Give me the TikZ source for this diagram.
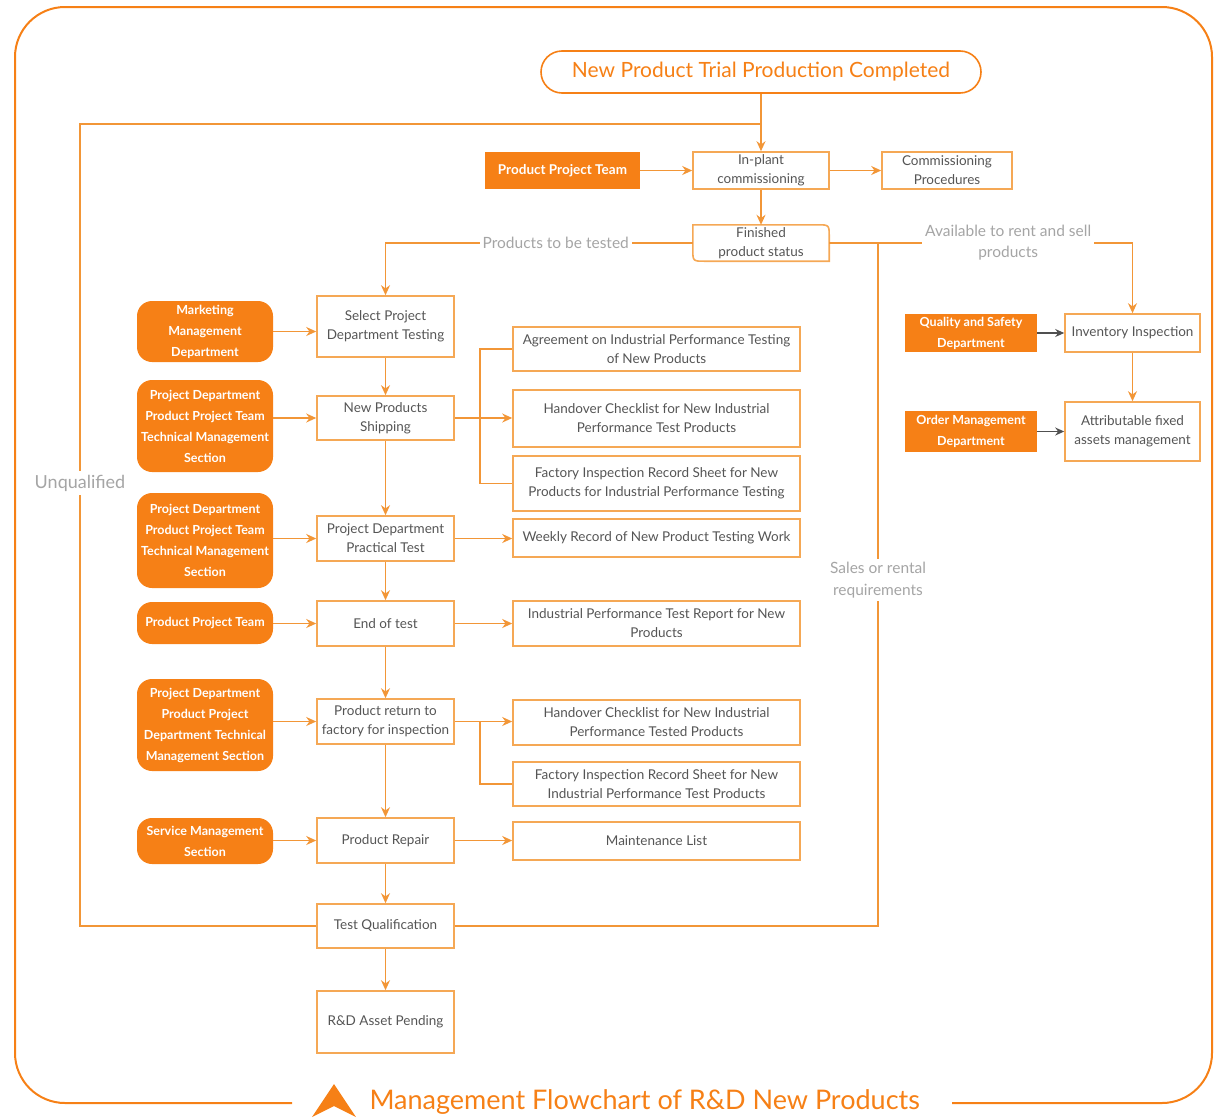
\documentclass[tikz,border=0pt]{standalone}
\usepackage{fontspec}
\setmainfont{Lato}
\usetikzlibrary{arrows.meta,calc}

\definecolor{ofill}{RGB}{246,128,22}
\definecolor{oline}{RGB}{242,150,55}
\definecolor{oborder}{RGB}{245,168,85}
\definecolor{txt}{RGB}{85,85,85}
\definecolor{lblgray}{RGB}{165,165,165}
\definecolor{darkarr}{RGB}{80,80,80}

\tikzset{
  mbox/.style={draw=oborder, line width=1.6pt, fill=white, text=txt,
    align=center, inner sep=2pt, font=\fontsize{13.5}{19}\selectfont},
  obox/.style={fill=ofill, text=white, align=center, inner sep=2pt,
    font=\bfseries\fontsize{12.5}{21}\selectfont},
  orbox/.style={obox, rounded corners=15pt},
  lnk/.style={draw=oline, line width=1.5pt},
  arr/.style={lnk, -{Stealth[length=10pt,width=9pt]}},
  darr/.style={draw=darkarr, line width=1.2pt, -{Stealth[length=9pt,width=8pt]}},
  lbl/.style={fill=white, text=lblgray, align=center, inner sep=3pt,
    font=\fontsize{15.5}{22}\selectfont},
}

\begin{document}
\begin{tikzpicture}[x=1pt,y=-1pt]
\useasboundingbox (0,0) rectangle (1214,1119);

% outer frame, broken at the bottom for the title
\draw[draw=ofill, line width=2pt, rounded corners=50pt]
  (292,1103) -| (15,7) -| (1212,1103) -- (952,1103);
\fill[ofill] (334,1084) -- (356,1117) -- (334,1106) -- (312,1117) -- cycle;
\node[text=ofill, font=\fontsize{27}{30}\selectfont, anchor=west] (title)
  at (366,1102) {Management Flowchart of R\&D New Products};

% top part
\node[draw=ofill, line width=1.6pt, fill=white, rounded corners=21pt,
  minimum width=440pt, minimum height=42pt, text=ofill,
  font=\fontsize{21}{24}\selectfont] (top) at (761,72)
  {New Product Trial Production Completed};

\node[mbox, minimum width=136pt, minimum height=37pt] (inp) at (761,170.5)
  {In-plant\\commissioning};
\node[obox, minimum width=155pt, minimum height=37pt, font=\bfseries\fontsize{13.5}{19}\selectfont]
  (ppteam) at (562.5,170.5) {Product Project Team};
\node[mbox, minimum width=130pt, minimum height=37pt] (comm) at (947,170.5)
  {Commissioning\\Procedures};
\node[text=txt, align=center, minimum width=136pt, minimum height=36pt,
  inner sep=2pt, font=\fontsize{13.5}{19}\selectfont] (fin) at (761,243)
  {Finished\\product status};
\draw[draw=oborder, line width=1.6pt]
  (fin.north west) -- ($(fin.north east)+(-12,0)$)
  .. controls (fin.north east) .. ($(fin.north east)+(0,12)$)
  -- (fin.south east) -- ($(fin.south west)+(12,0)$)
  .. controls (fin.south west) .. ($(fin.south west)+(0,-12)$) -- cycle;

% main column
\node[mbox, minimum width=137pt, minimum height=61pt] (sel) at (385.5,326.5)
  {Select Project\\Department Testing};
\node[mbox, minimum width=137pt, minimum height=44pt] (ship) at (385.5,418)
  {New Products\\Shipping};
\node[mbox, minimum width=137pt, minimum height=45pt] (prac) at (385.5,538.5)
  {Project Department\\Practical Test};
\node[mbox, minimum width=137pt, minimum height=45pt] (endt) at (385.5,623.5)
  {End of test};
\node[mbox, minimum width=137pt, minimum height=45pt] (ret) at (385.5,721.5)
  {Product return to\\factory for inspection};
\node[mbox, minimum width=137pt, minimum height=45pt] (rep) at (385.5,840.5)
  {Product Repair};
\node[mbox, minimum width=137pt, minimum height=44pt] (qual) at (385.5,926)
  {Test Qualification};
\node[mbox, minimum width=137pt, minimum height=62pt] (rd) at (385.5,1022)
  {R\&D Asset Pending};

% responsible departments
\node[orbox, minimum width=136pt, minimum height=61pt] (mk) at (205,331.5)
  {Marketing\\Management\\Department};
\node[orbox, minimum width=136pt, minimum height=92pt] (pp1) at (205,426)
  {Project Department\\Product Project Team\\Technical Management\\Section};
\node[orbox, minimum width=136pt, minimum height=95pt] (pp2) at (205,540.5)
  {Project Department\\Product Project Team\\Technical Management\\Section};
\node[orbox, minimum width=136pt, minimum height=42pt] (ppt) at (205,623)
  {Product Project Team};
\node[orbox, minimum width=136pt, minimum height=92pt] (pp3) at (205,725)
  {Project Department\\Product Project\\Department Technical\\Management Section};
\node[orbox, minimum width=136pt, minimum height=46pt] (svc) at (205,841)
  {Service Management\\Section};

% documents
\node[mbox, minimum width=287pt, minimum height=44pt] (d1) at (656.5,349)
  {Agreement on Industrial Performance Testing\\of New Products};
\node[mbox, minimum width=287pt, minimum height=57pt] (d2) at (656.5,418.5)
  {Handover Checklist for New Industrial\\Performance Test Products};
\node[mbox, minimum width=287pt, minimum height=55pt] (d3) at (656.5,483.5)
  {Factory Inspection Record Sheet for New\\Products for Industrial Performance Testing};
\node[mbox, minimum width=287pt, minimum height=38pt] (d4) at (656.5,538)
  {Weekly Record of New Product Testing Work};
\node[mbox, minimum width=287pt, minimum height=45pt] (d5) at (656.5,623.5)
  {Industrial Performance Test Report for New\\Products};
\node[mbox, minimum width=287pt, minimum height=45pt] (d6) at (656.5,722.5)
  {Handover Checklist for New Industrial\\Performance Tested Products};
\node[mbox, minimum width=287pt, minimum height=44pt] (d7) at (656.5,784)
  {Factory Inspection Record Sheet for New\\Industrial Performance Test Products};
\node[mbox, minimum width=287pt, minimum height=38pt] (d8) at (656.5,841)
  {Maintenance List};

% right branch
\node[obox, minimum width=132pt, minimum height=38pt] (qs) at (971,333)
  {Quality and Safety\\Department};
\node[mbox, minimum width=135pt, minimum height=38pt] (inv) at (1132.5,333)
  {Inventory Inspection};
\node[obox, minimum width=132pt, minimum height=41pt] (om) at (971,431.5)
  {Order Management\\Department};
\node[mbox, minimum width=135pt, minimum height=59pt] (asset) at (1132.5,431.5)
  {Attributable fixed\\assets management};

% junction points
\coordinate (jT) at (761,124);
\coordinate (jR) at (878,243);
\coordinate (jI) at (inv.north |- fin.east);

% top connectors
\draw[arr] (top.south) -- (inp.north);
\draw[arr] (ppteam.east) -- (inp.west);
\draw[arr] (inp.east) -- (comm.west);
\draw[arr] (inp.south) -- (fin.north);
\draw[arr] (fin.west) -- node[lbl, pos=0.446] (ltest) {Products to be tested}
  (fin.west -| sel.north) -- (sel.north);
\draw[arr] (fin.east) -- node[lbl, pos=0.59, font=\fontsize{15.5}{21}\selectfont] (lrent)
  {Available to rent and sell\\products} (jI) -- (inv.north);
\draw[arr] (inv.south) -- (asset.north);
\draw[darr] (qs.east) -- (inv.west);
\draw[darr] (om.east) -- (om.east -| asset.west);

% main column flow
\draw[arr] (sel.south) -- (ship.north);
\draw[arr] (ship.south) -- (prac.north);
\draw[arr] (prac.south) -- (endt.north);
\draw[arr] (endt.south) -- (ret.north);
\draw[arr] (ret.south) -- (rep.north);
\draw[arr] (rep.south) -- (qual.north);
\draw[arr] (qual.south) -- (rd.north);

% departments to steps
\draw[arr] (mk.east) -- (mk.east -| sel.west);
\draw[arr] (ship.west -| pp1.east) -- (ship.west);
\draw[arr] (prac.west -| pp2.east) -- (prac.west);
\draw[arr] (endt.west -| ppt.east) -- (endt.west);
\draw[arr] (ret.west -| pp3.east) -- (ret.west);
\draw[arr] (rep.west -| svc.east) -- (rep.west);

% steps to documents
\draw[arr] (ship.east) -- (ship.east -| d2.west);
\draw[lnk] (d1.west) -- ++(-32,0) |- (d3.west);
\draw[arr] (prac.east) -- (prac.east -| d4.west);
\draw[arr] (endt.east) -- (endt.east -| d5.west);
\draw[arr] (ret.east) -- (ret.east -| d6.west);
\draw[lnk] ($(ret.east)+(25,0)$) |- (d7.west);
\draw[arr] (rep.east) -- (rep.east -| d8.west);

% feedback loops
\draw[lnk] (qual.west) -| (80,124) -- (jT);
\node[lbl, font=\fontsize{18}{22}\selectfont, inner sep=4pt] (lunq) at (80,483) {Unqualified};
\draw[lnk] (qual.east) -| (jR);
\node[lbl, font=\fontsize{15.5}{22}\selectfont] (lsale) at (878,580)
  {Sales or rental\\requirements};
\end{tikzpicture}
\end{document}
